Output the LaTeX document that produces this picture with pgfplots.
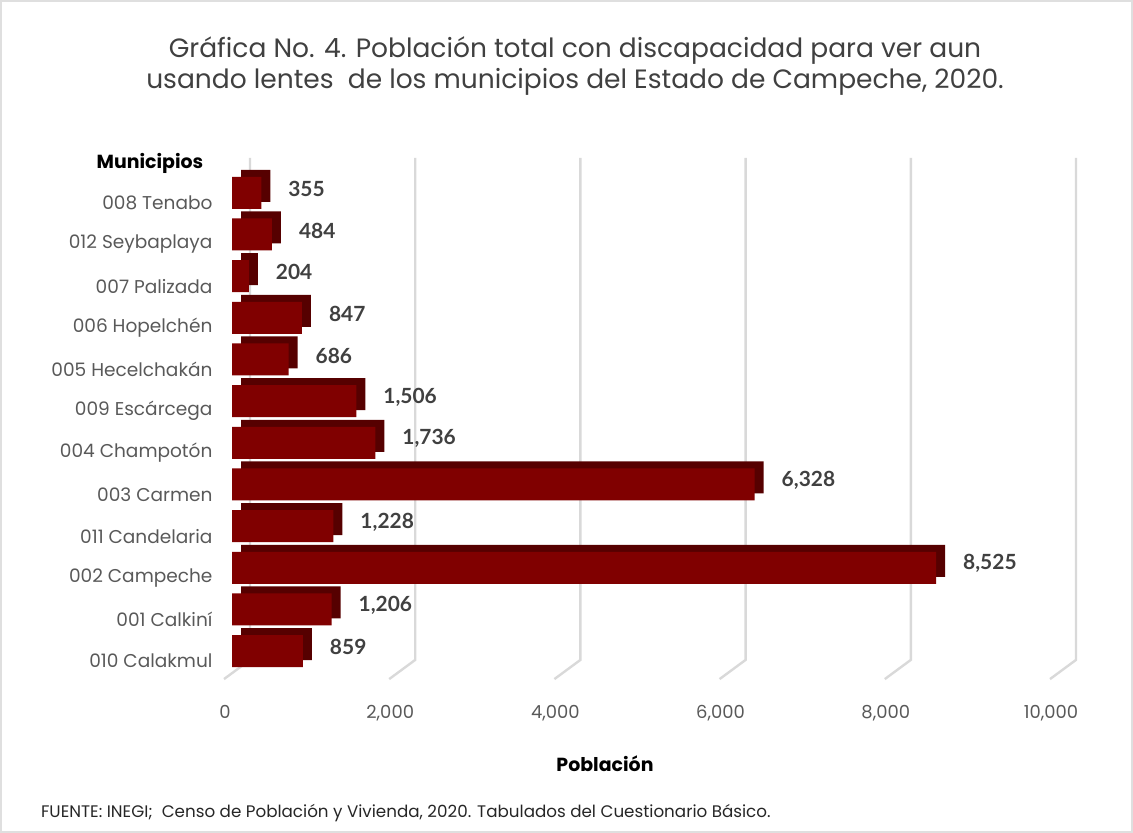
\documentclass[border=0pt]{standalone}
\usepackage{fontspec}
\setmainfont{Poppins}
\newfontfamily\lato{Lato}
\usepackage{pgfplots}
\usepackage{pgfplotstable}
\pgfplotsset{compat=1.18}
\definecolor{barfront}{HTML}{800000}
\definecolor{bardark}{HTML}{560000}
\definecolor{txtgray}{HTML}{595959}
\definecolor{titlegray}{HTML}{404040}
\definecolor{gridgray}{HTML}{D9D9D9}

% bottom (0) to top (11)
\pgfplotstableread{
y val
0 859
1 1206
2 8525
3 1228
4 6328
5 1736
6 1506
7 686
8 847
9 204
10 484
11 355
}\municipios

\begin{document}
\begin{tikzpicture}
\begin{axis}[
  set layers,
  at={(0,0)}, anchor=south west,
  scale only axis, width=413bp, height=250bp,
  clip=false,
  xbar, bar width=16bp, bar shift=0pt,
  xmin=0, xmax=10000, ymin=-0.5, ymax=11.5,
  axis line style={draw=none},
  tick style={draw=none},
  xtick={0,2000,...,10000},
  ytick={0,...,11},
  yticklabels={010 Calakmul, 001 Calkiní, 002 Campeche, 011 Candelaria, 003 Carmen, 004 Champotón, 009 Escárcega, 005 Hecelchakán, 006 Hopelchén, 007 Palizada, 012 Seybaplaya, 008 Tenabo},
  yticklabel style={font=\fontsize{9.3}{11}\selectfont, text=txtgray, xshift=-2bp, yshift=-5bp},
  xticklabel style={font=\fontsize{9}{11}\selectfont, text=txtgray, xshift=-3.5bp, yshift=-13bp},
  scaled x ticks=false,
  /pgf/number format/1000 sep={,},
  /pgf/number format/assume math mode=true,
]
\begin{pgfonlayer}{axis grid}
\pgfplotsinvokeforeach{0,2000,4000,6000,8000,10000}{
  \draw[gridgray, line width=1.2bp] ([xshift=9bp]axis cs:#1,11.84) -- ([xshift=9bp]axis cs:#1,-0.21) -- ([xshift=-4bp]axis cs:#1,-0.67);
}
\end{pgfonlayer}
% depth of the bars (top and side faces)
\addplot[fill=bardark, draw=none, xshift=4.5bp, yshift=3.5bp] table[x=val, y=y] {\municipios};
% front faces with value labels
\addplot[fill=barfront, draw=none,
  nodes near coords,
  point meta=x,
  nodes near coords style={font=\lato\fontsize{10.5}{12}\selectfont\bfseries, text=titlegray, anchor=west, xshift=10bp, yshift=2bp,
    /pgf/number format/1000 sep={,}, /pgf/number format/assume math mode=true}]
  table[x=val, y=y] {\municipios};
\end{axis}

\node[font=\fontsize{13.3}{16}\selectfont, text=titlegray, align=center] at (171.5bp,303bp)
  {Gráfica No. 4. Población total con discapacidad para ver aun\\usando lentes\ \ de los municipios del Estado de Campeche, 2020.};
\node[font=\fontsize{9.5}{11}\selectfont\bfseries] at (-41bp,254.5bp) {Municipios};
\node[font=\fontsize{9.5}{11}\selectfont\bfseries] at (186.5bp,-46bp) {Población};
\node[font=\fontsize{8.4}{10}\selectfont, text=black!85, anchor=west] at (-99bp,-70.5bp)
  {FUENTE: INEGI;\ \ Censo de Población y Vivienda, 2020. Tabulados del Cuestionario Básico.};
\draw[gray!25, line width=1bp] (-115.5bp,-80bp) rectangle (450bp,335.5bp);
\end{tikzpicture}
\end{document}
